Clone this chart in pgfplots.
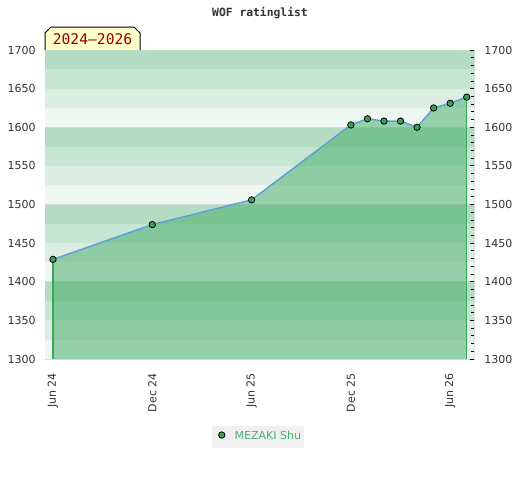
\documentclass[border=0pt]{standalone}
\usepackage{pgfplots}
\pgfplotsset{compat=1.18}
\usepackage{fontspec}
\setmainfont{DejaVu Sans}
\newfontfamily\monofont{DejaVu Sans Mono}
\definecolor{bandA}{HTML}{B3DCC3}
\definecolor{bandB}{HTML}{C6E5D2}
\definecolor{bandC}{HTML}{DCEEE3}
\definecolor{bandD}{HTML}{EEF7F1}
\definecolor{sepgrey}{HTML}{D6D6D6}
\definecolor{axgrey}{HTML}{DDDDDD}
\definecolor{fillg}{HTML}{40AB65}
\definecolor{lineblue}{HTML}{5EA0D6}
\definecolor{mkgreen}{HTML}{38A05A}
\definecolor{vgreen}{HTML}{35AA58}
\definecolor{lblgrey}{HTML}{333333}
\definecolor{legbg}{HTML}{F0F0F0}
\definecolor{leggreen}{HTML}{4CB070}
\definecolor{boxyellow}{HTML}{FFFFCC}
\definecolor{boxred}{HTML}{990000}
\begin{document}
\begin{tikzpicture}
\path[use as bounding box] (0,0) rectangle (390pt,360pt);
\begin{axis}[
  at={(33.75pt,90.75pt)}, anchor=south west, scale only axis,
  width=321.75pt, height=231.75pt,
  xmin=-0.483, xmax=25.44, ymin=1300, ymax=1700,
  xtick={0,6,12,18,24},
  xticklabels={Jun 24,Dec 24,Jun 25,Dec 25,Jun 26},
  ytick={1300,1350,...,1700},
  major tick length=0pt, tick style={draw=none},
  axis line style={draw=axgrey, line width=0.75pt},
  ticklabel style={font=\fontsize{8.25}{10}\selectfont, text=lblgrey},
  /pgf/number format/assume math mode=true,
  /pgf/number format/1000 sep={},
  yticklabel style={anchor=east, inner sep=0pt, xshift=-6.75pt},
  xticklabel style={yshift=-10.5pt, rotate=90, anchor=east, inner sep=0pt},
  legend style={at={(0.4965,-0.2515)}, anchor=center, fill=legbg, draw=none,
    font=\fontsize{8.25}{10}\selectfont, text=leggreen,
    inner xsep=0pt, inner ysep=2.5pt},
]
% background bands
\fill[bandA] (axis cs:-1,1675) rectangle (axis cs:26,1700);
\fill[bandB] (axis cs:-1,1650) rectangle (axis cs:26,1675);
\fill[bandC] (axis cs:-1,1625) rectangle (axis cs:26,1650);
\fill[bandD] (axis cs:-1,1600) rectangle (axis cs:26,1625);
\fill[bandA] (axis cs:-1,1575) rectangle (axis cs:26,1600);
\fill[bandB] (axis cs:-1,1550) rectangle (axis cs:26,1575);
\fill[bandC] (axis cs:-1,1525) rectangle (axis cs:26,1550);
\fill[bandD] (axis cs:-1,1500) rectangle (axis cs:26,1525);
\fill[bandA] (axis cs:-1,1475) rectangle (axis cs:26,1500);
\fill[bandB] (axis cs:-1,1450) rectangle (axis cs:26,1475);
\fill[bandC] (axis cs:-1,1425) rectangle (axis cs:26,1450);
\fill[bandD] (axis cs:-1,1400) rectangle (axis cs:26,1425);
\fill[bandA] (axis cs:-1,1375) rectangle (axis cs:26,1400);
\fill[bandB] (axis cs:-1,1350) rectangle (axis cs:26,1375);
\fill[bandC] (axis cs:-1,1325) rectangle (axis cs:26,1350);
\fill[bandD] (axis cs:-1,1300) rectangle (axis cs:26,1325);
\draw[sepgrey, line width=0.75pt] (axis cs:-1,1600) -- (axis cs:26,1600);
\draw[sepgrey, line width=0.75pt] (axis cs:-1,1500) -- (axis cs:26,1500);
\draw[sepgrey, line width=0.75pt] (axis cs:-1,1400) -- (axis cs:26,1400);
% area under the rating line
\addplot[fill=fillg, fill opacity=0.5, draw=none, forget plot] coordinates {
  (0,1300) (0,1429) (6,1474) (12,1506) (18,1603) (19,1611) (20,1608)
  (21,1608) (22,1600) (23,1625) (24,1631) (25,1639) (25,1300)};
\addplot[vgreen, line width=0.8pt, forget plot] coordinates {(0,1300) (0,1429)};
\addplot[vgreen, line width=0.8pt, forget plot] coordinates {(25,1300) (25,1639)};
\addplot[line width=1.1pt, color=lineblue, mark=*, mark size=2.4pt,
  mark options={fill=mkgreen, draw=black, line width=0.6pt},
  legend image code/.code={\path[draw=none, fill=none] (-0.25cm,0cm) -- (0.27cm,0cm);
    \draw[mark=*, mark size=2.4pt,
    mark options={fill=mkgreen, draw=black, line width=0.6pt}]
    plot coordinates {(0cm,0.045cm)};}]
  coordinates {
  (0,1429) (6,1474) (12,1506) (18,1603) (19,1611) (20,1608)
  (21,1608) (22,1600) (23,1625) (24,1631) (25,1639)};
\addlegendentry{MEZAKI Shu}
\end{axis}
% right-hand axis
\begin{axis}[
  at={(33.75pt,90.75pt)}, anchor=south west, scale only axis,
  width=321.75pt, height=231.75pt,
  xmin=-0.483, xmax=25.44, ymin=1300, ymax=1700,
  axis x line=none, axis y line*=right,
  axis line style={draw=none},
  ytick={1300,1350,...,1700}, minor tick num=4,
  tick align=inside, major tick length=3pt, minor tick length=2.2pt,
  tick style={draw=black, line width=0.6pt},
  ticklabel style={font=\fontsize{8.25}{10}\selectfont, text=lblgrey},
  /pgf/number format/assume math mode=true,
  /pgf/number format/1000 sep={},
  yticklabel style={anchor=west, inner sep=0pt, xshift=7.5pt},
]
\addplot[draw=none, forget plot] coordinates {(0,1429) (25,1639)};
\end{axis}
% title
\node[font=\monofont\bfseries\fontsize{8.5}{10}\selectfont, text=lblgrey]
  at (195pt,350.25pt) {WOF ratinglist};
% period label
\filldraw[fill=boxyellow, draw=black, line width=0.75pt]
  (33.75pt,322.5pt) -- (33.75pt,335.25pt) -- (38.25pt,339.75pt)
  -- (100.5pt,339.75pt) -- (105pt,335.25pt) -- (105pt,322.5pt);
\node[font=\monofont\fontsize{11}{12}\selectfont, text=boxred]
  at (69.4pt,330.4pt) {2024–2026};
\end{tikzpicture}
\end{document}
